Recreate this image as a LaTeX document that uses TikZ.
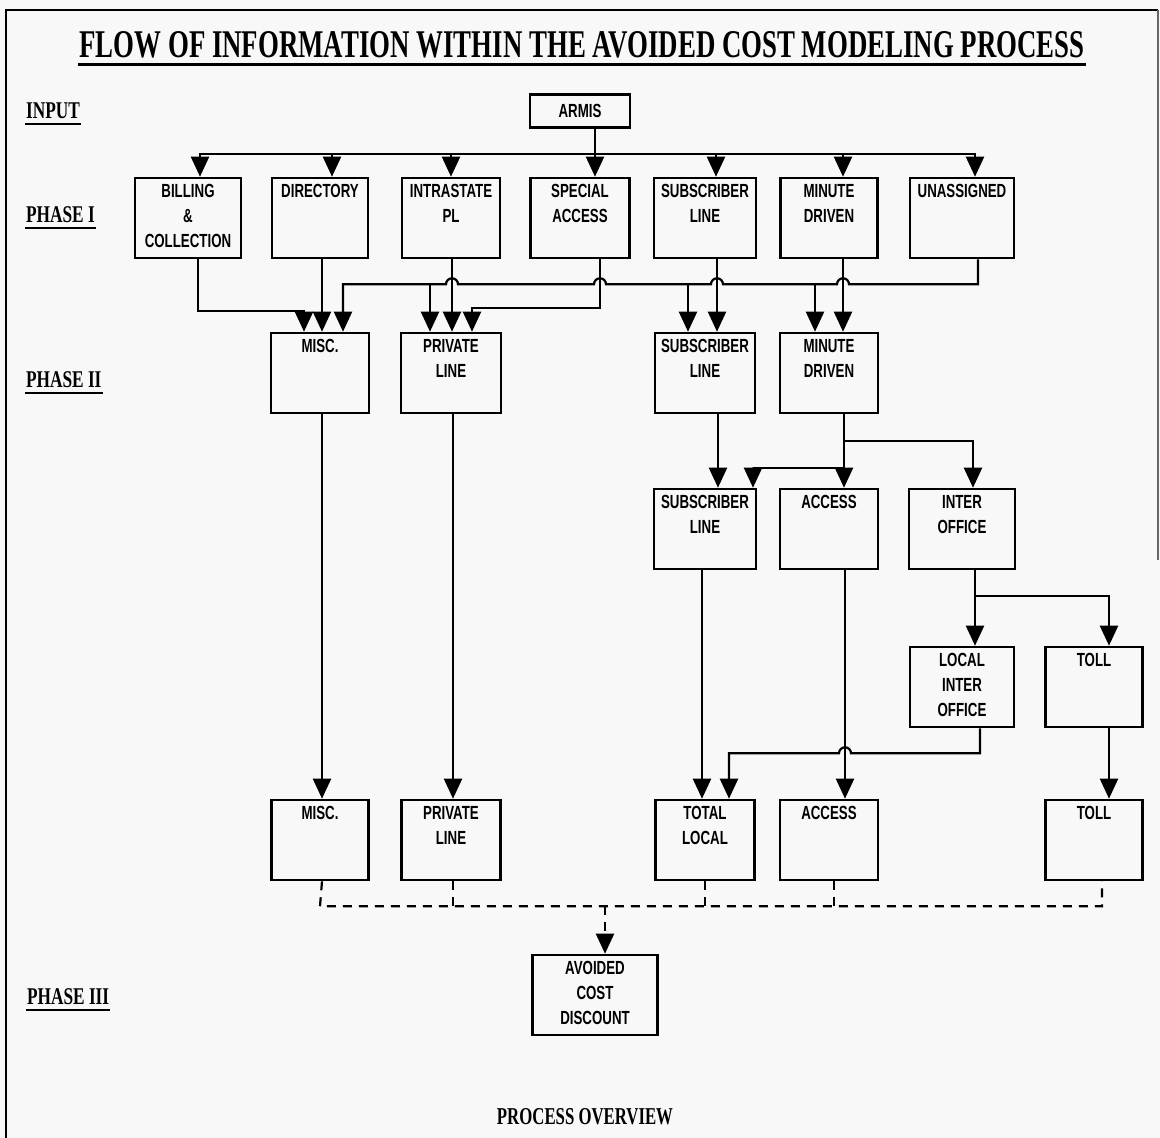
\documentclass[tikz,border=0pt]{standalone}
\usepackage{fontspec}
\usepackage{graphicx}
\usepackage{tikz}
\usetikzlibrary{arrows.meta}
\definecolor{paper}{HTML}{F8F8F8}
\newfontfamily\boxfont[FakeStretch=0.7]{Liberation Sans}
\newfontfamily\labfont[FakeStretch=0.72]{Liberation Serif}
\newcommand*\btext[2][100pt]{\parbox[c][80pt][t]{#1}{\centering\rule{0pt}{19pt}#2}}

\begin{document}
\begin{tikzpicture}[x=1pt,y=1pt,>={Triangle[width=18pt,length=20pt]},line width=2.2pt,
    blk/.style={draw,line width=2.6pt,inner sep=0pt,font=\boxfont\bfseries\fontsize{19}{25}\selectfont},
    lbl/.style={inner sep=0pt,anchor=west,font=\labfont\bfseries\fontsize{24}{26}\selectfont},
    bus/.style={line width=2.2pt,dash pattern=on 9pt off 7pt}]
  \useasboundingbox (0,0) rectangle (1160,-1138);
  \fill[paper] (0,0) rectangle (1160,-1138);
  \draw[line width=1.6pt] (6,-1138) -- (6,-10) -- (1158,-10);
  \draw[line width=1.2pt,black!60] (1158,-10) -- (1158,-560);

  % headings
  \node (title) [inner sep=0pt] at (582,-45)
    {\resizebox{1005pt}{26pt}{\labfont\bfseries FLOW OF INFORMATION WITHIN THE AVOIDED COST MODELING PROCESS}};
  \node (lin) [lbl] at (25,-111) {INPUT};
  \node (lp1) [lbl] at (25,-215) {PHASE I};
  \node (lp2) [lbl] at (25,-380) {PHASE II};
  \node (lp3) [lbl] at (26,-997) {PHASE III};
  \node (pover) [inner sep=0pt] at (585,-1117)
    {\resizebox{176pt}{16pt}{\labfont\bfseries PROCESS OVERVIEW}};
  \draw[line width=3pt] ([yshift=-5pt]title.south west) -- ([yshift=-5pt]title.south east);
  \foreach \n in {lin,lp1,lp2,lp3}
    \draw[line width=2.6pt] ([yshift=-4pt]\n.south west) -- ([yshift=-4pt]\n.south east);

  % input and phase I
  \node (armis) [blk,minimum width=100pt,minimum height=33pt] at (580,-111) {ARMIS};
  \node (bill) [blk] at (188,-218) {\btext[106pt]{BILLING\\\&\\COLLECTION}};
  \node (dir) [blk,node distance=132pt,right of=bill] {\btext[96pt]{DIRECTORY}};
  \node (intra) [blk,node distance=131pt,right of=dir] {\btext[98pt]{INTRASTATE\\PL}};
  \node (spec) [blk,node distance=129pt,right of=intra] {\btext[99pt]{SPECIAL\\ACCESS}};
  \node (subs1) [blk,node distance=125pt,right of=spec] {\btext[102pt]{SUBSCRIBER\\LINE}};
  \node (min1) [blk,node distance=124pt,right of=subs1] {\btext[97pt]{MINUTE\\DRIVEN}};
  \node (unas) [blk,node distance=133pt,right of=min1] {\btext[104pt]{UNASSIGNED}};

  % phase II
  \node (misc2) [blk,node distance=155pt,below of=dir] {\btext[98pt]{MISC.}};
  \node (priv2) [blk,node distance=155pt,below of=intra] {\btext{PRIVATE\\LINE}};
  \node (subs2) [blk,node distance=155pt,below of=subs1] {\btext{SUBSCRIBER\\LINE}};
  \node (min2) [blk,node distance=155pt,below of=min1] {\btext[98pt]{MINUTE\\DRIVEN}};
  \node (subs3) [blk,node distance=156pt,below of=subs2] {\btext[102pt]{SUBSCRIBER\\LINE}};
  \node (acc3) [blk,node distance=156pt,below of=min2] {\btext[98pt]{ACCESS}};
  \node (inter) [blk,node distance=311pt,below of=unas] {\btext[106pt]{INTER\\OFFICE}};
  \node (local) [blk,node distance=158pt,below of=inter] {\btext[104pt]{LOCAL\\INTER\\OFFICE}};
  \node (toll) [blk,node distance=132pt,right of=local] {\btext[97pt]{TOLL}};
  \node (misc4) [blk,node distance=467pt,below of=misc2] {\btext[97pt]{MISC.}};
  \node (priv4) [blk,node distance=467pt,below of=priv2] {\btext[99pt]{PRIVATE\\LINE}};
  \node (total) [blk,node distance=311pt,below of=subs3] {\btext[99pt]{TOTAL\\LOCAL}};
  \node (acc4) [blk,node distance=311pt,below of=acc3] {\btext[98pt]{ACCESS}};
  \node (toll4) [blk,node distance=153pt,below of=toll] {\btext[97pt]{TOLL}};

  % phase III
  \node (avoid) [blk] at (595,-995) {\btext[125pt]{AVOIDED\\COST\\DISCOUNT}};

  \coordinate (unasbus) at ([xshift=16pt,yshift=-25pt]unas.south);
  \coordinate (dbus) at ([yshift=-25pt]misc4.south);

  % ARMIS to phase I
  \draw[->] ([xshift=15pt]armis.south) -- ([xshift=15pt]spec.north);
  \foreach \b/\s in {bill/12,dir/12,intra/0,subs1/11,min1/14,unas/13}
    \draw[->] ([xshift=15pt]armis.south) -- ++(0,-25) -| ([xshift=\s pt]\b.north);

  % phase I to phase II
  \draw[->] ([xshift=10pt]bill.south) -- ++(0,-52) -| ([xshift=-16pt]misc2.north);
  \draw[->] ([xshift=2pt]dir.south) -- ([xshift=2pt]misc2.north);
  \draw[->] ([xshift=1pt]intra.south) -- ([xshift=1pt]priv2.north);
  \draw[->] ([xshift=20pt]spec.south) -- ++(0,-49) -| ([xshift=21pt]priv2.north);
  \draw[->] ([xshift=12pt]subs1.south) -- ([xshift=12pt]subs2.north);
  \draw[->] ([xshift=14pt]min1.south) -- ([xshift=14pt]min2.north);
  \draw[->] ([xshift=16pt]unas.south) -- (unasbus) -- ++(-129,0)
    arc[start angle=0,end angle=180,radius=6] -- ++(-114,0)
    arc[start angle=0,end angle=180,radius=6] -- ++(-105,0)
    arc[start angle=0,end angle=180,radius=6] -- ++(-136,0)
    arc[start angle=0,end angle=180,radius=6] -| ([xshift=23pt]misc2.north);
  \draw[->] ([xshift=-21pt]priv2.north |- unasbus) -- ([xshift=-21pt]priv2.north);
  \draw[->] ([xshift=-17pt]subs2.north |- unasbus) -- ([xshift=-17pt]subs2.north);
  \draw[->] ([xshift=-14pt]min2.north |- unasbus) -- ([xshift=-14pt]min2.north);

  % phase II breakdown
  \draw[->] ([xshift=13pt]subs2.south) -- ([xshift=13pt]subs3.north);
  \draw[->] ([xshift=15pt]min2.south) -- ([xshift=15pt]acc3.north);
  \draw[->] ([xshift=15pt]min2.south) -- ++(0,-27) -| ([xshift=11pt]inter.north);
  \draw[->] ([xshift=15pt]min2.south) -- ++(0,-54) -| ([xshift=48pt]subs3.north);
  \draw[->] ([xshift=13pt]inter.south) -- ([xshift=13pt]local.north);
  \draw[->] ([xshift=13pt]inter.south) -- ++(0,-26) -| ([xshift=15pt]toll.north);
  \draw[->] ([xshift=2pt]misc2.south) -- ([xshift=2pt]misc4.north);
  \draw[->] ([xshift=2pt]priv2.south) -- ([xshift=2pt]priv4.north);
  \draw[->] ([xshift=-3pt]subs3.south) -- ([xshift=-3pt]total.north);
  \draw[->] ([xshift=16pt]acc3.south) -- ([xshift=16pt]acc4.north);
  \draw[->] ([xshift=18pt]local.south) -- ++(0,-25) -- ++(-129,0)
    arc[start angle=0,end angle=180,radius=6] -| ([xshift=24pt]total.north);
  \draw[->] ([xshift=15pt]toll.south) -- ([xshift=15pt]toll4.north);

  % phase II results to phase III
  \draw[bus] ([xshift=2pt]misc4.south) -- (dbus) -| ([xshift=8pt]toll4.south);
  \foreach \b/\s in {priv4/2,total/0,acc4/5}
    \draw[bus] ([xshift=\s pt]\b.south) -- ([xshift=\s pt]\b.south |- dbus);
  \draw[bus,->] ([xshift=10pt]avoid.north |- dbus) -- ([xshift=10pt]avoid.north);
\end{tikzpicture}
\end{document}
